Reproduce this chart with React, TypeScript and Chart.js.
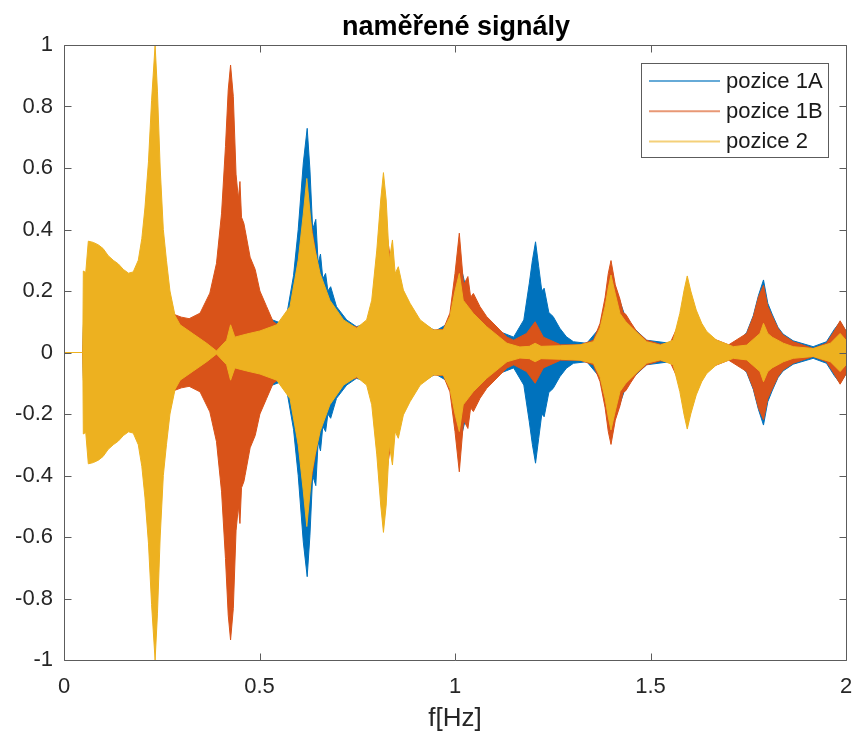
import { useEffect, useRef } from 'react';
import { Chart, registerables } from 'chart.js';

Chart.register(...registerables);

const FONT = '"Liberation Sans", Arial, Helvetica, sans-serif';

const titleText = 'naměřené signály';
const xTitle = 'f[Hz]';
const seriesNames = ['pozice 1A', 'pozice 1B', 'pozice 2'];
const seriesColors = ['#0072BD', '#D95319', '#EDB120'];
const xTicks = [0, 0.5, 1, 1.5, 2];
const yTicks = [-1, -0.8, -0.6, -0.4, -0.2, 0, 0.2, 0.4, 0.6, 0.8, 1];

// pozice 1A — envelope (amplitude)
const freq1A = [0, 0.048, 0.05, 0.15, 0.2, 0.233, 0.25, 0.28, 0.35, 0.4, 0.426, 0.45, 0.5, 0.535, 0.552, 0.57, 0.587, 0.599, 0.612, 0.622, 0.629, 0.636, 0.644, 0.65, 0.656, 0.662, 0.669, 0.675, 0.682, 0.697, 0.723, 0.748, 0.79, 0.81, 0.817, 0.83, 0.86, 0.911, 0.95, 0.99, 1.011, 1.03, 1.06, 1.11, 1.15, 1.176, 1.19, 1.198, 1.206, 1.214, 1.222, 1.228, 1.24, 1.251, 1.268, 1.285, 1.303, 1.337, 1.37, 1.399, 1.44, 1.49, 1.55, 1.62, 1.695, 1.729, 1.746, 1.763, 1.776, 1.789, 1.8, 1.811, 1.826, 1.839, 1.865, 1.916, 1.95, 1.97, 1.985, 2.0];
const amp1A = [0, 0, 0.1, 0.15, 0.2, 0.5, 0.2, 0.1, 0.08, 0.2, 0.5, 0.3, 0.12, 0.105, 0.097, 0.125, 0.25, 0.4, 0.616, 0.729, 0.594, 0.4, 0.433, 0.29, 0.32, 0.24, 0.257, 0.2, 0.214, 0.149, 0.106, 0.084, 0.1, 0.4, 0.45, 0.25, 0.15, 0.1, 0.07, 0.1, 0.3, 0.2, 0.12, 0.07, 0.05, 0.106, 0.225, 0.3, 0.36, 0.28, 0.2, 0.209, 0.13, 0.117, 0.079, 0.051, 0.035, 0.03, 0.08, 0.25, 0.1, 0.04, 0.03, 0.025, 0.019, 0.04, 0.065, 0.12, 0.185, 0.236, 0.16, 0.125, 0.082, 0.06, 0.038, 0.019, 0.035, 0.075, 0.1, 0.07];

// pozice 1B
const freq1B = [0, 0.048, 0.05, 0.15, 0.2, 0.233, 0.25, 0.265, 0.279, 0.3, 0.32, 0.348, 0.373, 0.39, 0.403, 0.413, 0.42, 0.426, 0.433, 0.44, 0.446, 0.45, 0.454, 0.46, 0.463, 0.476, 0.489, 0.501, 0.518, 0.535, 0.552, 0.58, 0.621, 0.66, 0.72, 0.76, 0.787, 0.81, 0.817, 0.824, 0.847, 0.86, 0.911, 0.945, 0.97, 0.987, 1.0, 1.011, 1.022, 1.033, 1.04, 1.047, 1.064, 1.081, 1.115, 1.133, 1.15, 1.183, 1.205, 1.226, 1.27, 1.32, 1.354, 1.371, 1.384, 1.392, 1.399, 1.41, 1.422, 1.43, 1.437, 1.45, 1.465, 1.49, 1.525, 1.55, 1.575, 1.594, 1.617, 1.65, 1.7, 1.746, 1.763, 1.776, 1.789, 1.8, 1.811, 1.826, 1.839, 1.865, 1.916, 1.95, 1.97, 1.985, 2.0];
const amp1B = [0, 0, 0.1, 0.15, 0.2, 0.5, 0.2, 0.15, 0.125, 0.115, 0.11, 0.128, 0.193, 0.29, 0.453, 0.67, 0.854, 0.935, 0.833, 0.58, 0.5, 0.556, 0.44, 0.42, 0.4, 0.31, 0.27, 0.2, 0.15, 0.1, 0.085, 0.12, 0.5, 0.2, 0.09, 0.08, 0.12, 0.4, 0.45, 0.4, 0.2, 0.15, 0.1, 0.073, 0.075, 0.128, 0.257, 0.388, 0.22, 0.247, 0.18, 0.192, 0.149, 0.117, 0.073, 0.05, 0.04, 0.062, 0.1, 0.05, 0.025, 0.025, 0.04, 0.095, 0.18, 0.257, 0.299, 0.22, 0.173, 0.13, 0.124, 0.097, 0.068, 0.04, 0.027, 0.03, 0.1, 0.2, 0.1, 0.05, 0.025, 0.062, 0.117, 0.18, 0.219, 0.15, 0.119, 0.079, 0.057, 0.035, 0.013, 0.03, 0.07, 0.103, 0.07];

// pozice 2
const freq2 = [0, 0.048, 0.0494, 0.0556, 0.0622, 0.075, 0.088, 0.1, 0.113, 0.126, 0.139, 0.152, 0.165, 0.177, 0.19, 0.199, 0.207, 0.216, 0.224, 0.233, 0.239, 0.246, 0.254, 0.262, 0.271, 0.284, 0.297, 0.331, 0.365, 0.39, 0.416, 0.426, 0.437, 0.467, 0.501, 0.544, 0.578, 0.599, 0.612, 0.621, 0.634, 0.642, 0.655, 0.68, 0.715, 0.748, 0.774, 0.787, 0.8, 0.81, 0.817, 0.824, 0.832, 0.84, 0.847, 0.855, 0.868, 0.885, 0.911, 0.945, 0.97, 0.987, 1.0, 1.011, 1.021, 1.047, 1.081, 1.133, 1.166, 1.19, 1.205, 1.22, 1.27, 1.32, 1.354, 1.371, 1.384, 1.392, 1.399, 1.41, 1.422, 1.437, 1.45, 1.49, 1.525, 1.558, 1.575, 1.586, 1.594, 1.603, 1.617, 1.631, 1.644, 1.669, 1.712, 1.746, 1.78, 1.789, 1.8, 1.811, 1.84, 1.865, 1.916, 1.96, 1.985, 2.0];
const amp2 = [0, 0, 0.265, 0.26, 0.362, 0.358, 0.35, 0.338, 0.315, 0.3, 0.288, 0.27, 0.258, 0.262, 0.3, 0.37, 0.47, 0.62, 0.82, 1.0, 0.85, 0.6, 0.4, 0.3, 0.2, 0.12, 0.09, 0.06, 0.03, 0.005, 0.04, 0.09, 0.05, 0.06, 0.07, 0.09, 0.15, 0.3, 0.45, 0.566, 0.39, 0.333, 0.257, 0.17, 0.106, 0.079, 0.106, 0.17, 0.333, 0.496, 0.585, 0.496, 0.3, 0.366, 0.257, 0.279, 0.203, 0.16, 0.106, 0.073, 0.073, 0.117, 0.2, 0.257, 0.17, 0.127, 0.084, 0.03, 0.018, 0.02, 0.03, 0.02, 0.022, 0.025, 0.035, 0.08, 0.15, 0.21, 0.252, 0.19, 0.127, 0.1, 0.084, 0.035, 0.024, 0.04, 0.127, 0.203, 0.249, 0.2, 0.138, 0.095, 0.068, 0.04, 0.019, 0.024, 0.062, 0.095, 0.062, 0.05, 0.03, 0.019, 0.013, 0.03, 0.062, 0.04];

const seriesFreq = [freq1A, freq1B, freq2];
const seriesAmp = [amp1A, amp1B, amp2];

const axesBox = {
  id: 'axesBox',
  afterDatasetsDraw(chart: any) {
    const { ctx, chartArea: a, scales } = chart;
    const L = Math.floor(a.left) + 0.5;
    const R = Math.floor(a.right) + 0.5;
    const T = Math.floor(a.top) + 0.5;
    const B = Math.floor(a.bottom) + 0.5;
    const tl = 7;
    ctx.save();
    ctx.strokeStyle = '#5c5c5c';
    ctx.lineWidth = 1;
    ctx.beginPath();
    ctx.rect(L, T, R - L, B - T);
    for (const v of xTicks) {
      const px = Math.round(scales.x.getPixelForValue(v)) + 0.5;
      ctx.moveTo(px, B);
      ctx.lineTo(px, B - tl);
      ctx.moveTo(px, T);
      ctx.lineTo(px, T + tl);
    }
    for (const v of yTicks) {
      const py = Math.round(scales.y.getPixelForValue(v)) + 0.5;
      ctx.moveTo(L, py);
      ctx.lineTo(L + tl, py);
      ctx.moveTo(R, py);
      ctx.lineTo(R - tl, py);
    }
    ctx.stroke();
    // title centred over the plot area
    ctx.fillStyle = '#000000';
    ctx.font = `bold 27px ${FONT}`;
    ctx.textAlign = 'center';
    ctx.textBaseline = 'alphabetic';
    ctx.fillText(titleText, (a.left + a.right) / 2 + 1, 35);
    ctx.restore();
  },
};

const legendBox = {
  id: 'legendBox',
  afterDraw(chart: any) {
    const { ctx } = chart;
    const x0 = 641.5;
    const y0 = 63.5;
    const w = 187;
    const h = 94;
    ctx.save();
    ctx.fillStyle = '#ffffff';
    ctx.fillRect(x0, y0, w, h);
    ctx.strokeStyle = '#5c5c5c';
    ctx.lineWidth = 1;
    ctx.strokeRect(x0, y0, w, h);
    ctx.font = `22px ${FONT}`;
    ctx.textBaseline = 'middle';
    ctx.textAlign = 'left';
    seriesNames.forEach((name, i) => {
      const y = 81 + i * 30.2;
      ctx.globalAlpha = 0.6;
      ctx.strokeStyle = seriesColors[i];
      ctx.lineWidth = 2;
      ctx.beginPath();
      ctx.moveTo(649, y);
      ctx.lineTo(720, y);
      ctx.stroke();
      ctx.globalAlpha = 1;
      ctx.fillStyle = '#1a1a1a';
      ctx.fillText(name, 726, y + 1);
    });
    ctx.restore();
  },
};

export default function App() {
  const ref = useRef<HTMLCanvasElement | null>(null);

  useEffect(() => {
    if (!ref.current) return;
    const datasets: any[] = [];
    const orders = [2, 1, 0];
    seriesNames.forEach((name, i) => {
      const f = seriesFreq[i];
      const amp = seriesAmp[i];
      const common = {
        borderColor: seriesColors[i],
        backgroundColor: seriesColors[i],
        borderWidth: 1,
        pointRadius: 0,
        tension: 0,
        order: orders[i],
      };
      datasets.push({ ...common, label: name, fill: '+1', data: f.map((x, k) => ({ x, y: amp[k] })) });
      datasets.push({ ...common, label: name + ' (dolní)', fill: false, data: f.map((x, k) => ({ x, y: -amp[k] })) });
    });

    const chart = new Chart(ref.current, {
      type: 'line',
      data: { datasets },
      plugins: [axesBox, legendBox],
      options: {
        animation: false,
        responsive: true,
        maintainAspectRatio: false,
        devicePixelRatio: 1,
        events: [],
        layout: { padding: { left: 0, right: 0, top: 45, bottom: 0 } },
        plugins: {
          legend: { display: false },
          tooltip: { enabled: false },
          title: { display: false },
        },
        scales: {
          x: {
            type: 'linear',
            min: 0,
            max: 2,
            afterBuildTicks: (s: any) => { s.ticks = xTicks.map((v) => ({ value: v })); },
            afterFit: (s: any) => { s.height = 80; s.paddingLeft = 0; s.paddingRight = 9; },
            grid: { display: false, drawTicks: false },
            border: { display: false },
            ticks: { color: '#262626', font: { family: FONT, size: 22 }, padding: 14, maxRotation: 0, callback: (v: any) => String(v) },
            title: { display: true, text: xTitle, color: '#262626', font: { family: FONT, size: 26 }, padding: { top: 0, bottom: 6 } },
          },
          y: {
            type: 'linear',
            min: -1,
            max: 1,
            afterBuildTicks: (s: any) => { s.ticks = yTicks.map((v) => ({ value: v })); },
            afterFit: (s: any) => { s.width = 64; s.paddingTop = 0; s.paddingBottom = 0; },
            grid: { display: false, drawTicks: false },
            border: { display: false },
            ticks: { color: '#262626', font: { family: FONT, size: 22 }, padding: 11, callback: (v: any) => String(v) },
          },
        },
      },
    });
    return () => chart.destroy();
  }, []);

  return (
    <div style={{ position: 'fixed', left: 0, top: 0, width: 855, height: 740, background: '#ffffff' }}>
      <canvas ref={ref} />
    </div>
  );
}
